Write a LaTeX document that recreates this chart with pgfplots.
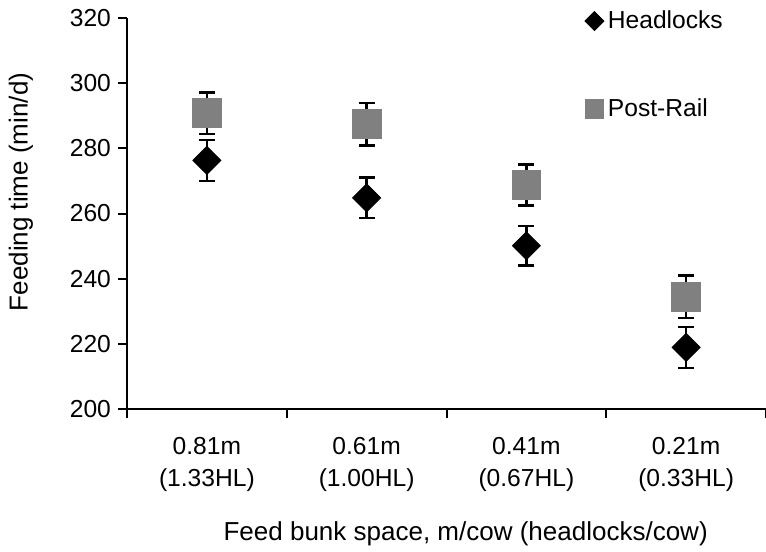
\documentclass[border=0pt]{standalone}
\usepackage{fontspec}
\setmainfont{Liberation Sans}
\usepackage{pgfplots}
\pgfplotsset{compat=1.18}
\definecolor{pgrey}{HTML}{808080}
\pgfplotsset{
  hlleg/.style={legend image code/.code={\draw[##1, mark size=3.36pt] plot coordinates {(0pt,0pt)};}},
  prleg/.style={legend image code/.code={\draw[##1, mark size=4.65pt] plot coordinates {(0pt,0pt)};}},
}
\begin{document}
\begin{tikzpicture}
\begin{axis}[
  scale only axis,
  width=319.5pt, height=195.5pt,
  xmin=-0.5, xmax=3.5,
  ymin=200, ymax=320,
  ytick={200,220,...,320},
  xtick={-0.5,0.5,1.5,2.5,3.5},
  x tick label as interval,
  xticklabels={{0.81m\\(1.33HL)},{0.61m\\(1.00HL)},{0.41m\\(0.67HL)},{0.21m\\(0.33HL)}},
  xticklabel style={align=center, font=\fontsize{12.3}{16}\selectfont, yshift=-6pt},
  yticklabel style={font=\fontsize{12.3}{14}\selectfont},
  /pgf/number format/assume math mode=true,
  axis x line*=bottom, axis y line*=left,
  axis line style={line width=1pt},
  tick align=outside,
  major tick length=4.5pt,
  tick style={line width=1pt, black},
  xlabel={Feed bunk space, m/cow (headlocks/cow)},
  ylabel={Feeding time (min/d)},
  label style={font=\fontsize{13}{15}\selectfont},
  xlabel style={at={(axis description cs:0.53,0)}, anchor=base, yshift=-65.5pt},
  ylabel style={at={(axis description cs:-0.166,0.555)}, anchor=center},
  legend style={draw=none, fill=none, at={(axis description cs:0.716,1.03)}, anchor=north west,
    font=\fontsize{12.3}{14}\selectfont, row sep=29.5pt, inner sep=0pt},
  legend cell align=left,
  clip=false,
]
\coordinate (bl) at (rel axis cs:0,0);
\coordinate (tr) at (rel axis cs:1,1);
\addplot[only marks, mark=square*, mark size=4.95pt, mark options={rotate=45}, black, hlleg,
  error bars/.cd, y dir=both, y explicit,
  error bar style={line width=1.35pt, black},
  error mark options={rotate=90, mark size=4pt, line width=1.35pt, black}]
  coordinates {
  (0,276.3) +- (0,6.3)
  (1,264.8) +- (0,6.2)
  (2,250.1) +- (0,6.1)
  (3,218.9) +- (0,6.3)
};
\addlegendentry{Headlocks}
\addplot[only marks, mark=square*, mark size=7.2pt, draw=pgrey, fill=pgrey, prleg,
  error bars/.cd, y dir=both, y explicit,
  error bar style={line width=1.35pt, black},
  error mark options={rotate=90, mark size=4pt, line width=1.35pt, black}]
  coordinates {
  (0,290.8) +- (0,6.4)
  (1,287.4) +- (0,6.5)
  (2,268.7) +- (0,6.3)
  (3,234.4) +- (0,6.5)
};
\addlegendentry{Post-Rail}
\end{axis}
\pgfresetboundingbox
\useasboundingbox ([shift={(-63.5pt,-71pt)}]bl) rectangle ([shift={(0pt,9pt)}]tr);
\end{tikzpicture}
\end{document}
